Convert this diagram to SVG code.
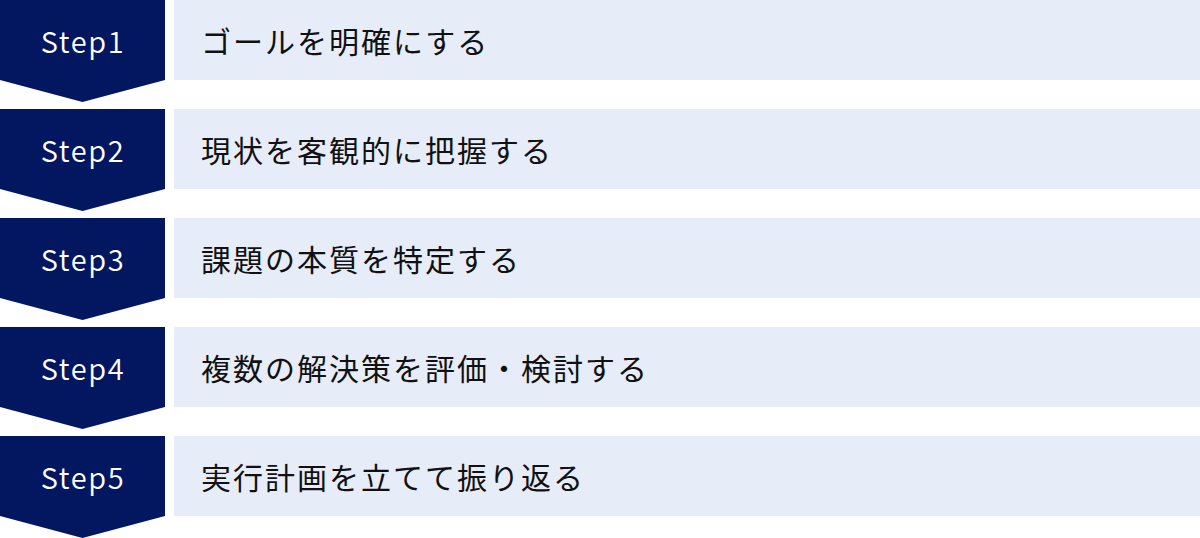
<svg xmlns="http://www.w3.org/2000/svg" width="1200" height="538" viewBox="0 0 1200 538">
<defs>
<style>
.chev{fill:#031761}
.bar{fill:#E6ECF8}
.step{font-family:"Noto Sans CJK JP","Noto Sans",sans-serif;font-size:29px;font-weight:350;fill:#ffffff;text-anchor:middle;letter-spacing:1.6px}
.label{font-family:"Noto Sans CJK JP","Noto Sans",sans-serif;font-size:30px;fill:#111111;letter-spacing:2px;dominant-baseline:central}
</style>
<polygon id="chevShape" class="chev" points="0,0 165,0 165,80 82.5,102 0,80"/>
</defs>
<rect width="1200" height="538" fill="#ffffff"/>
<g id="connectors"></g>
<g id="step1" transform="translate(0,0)">
<use href="#chevShape"/>
<rect class="bar" x="174" y="0" width="1026" height="80"/>
<text class="step" x="83" y="53">Step1</text>
<text class="label" x="201" y="40">ゴールを明確にする</text>
</g>
<g id="step2" transform="translate(0,109)">
<use href="#chevShape"/>
<rect class="bar" x="174" y="0" width="1026" height="80"/>
<text class="step" x="83" y="53">Step2</text>
<text class="label" x="201" y="40">現状を客観的に把握する</text>
</g>
<g id="step3" transform="translate(0,218)">
<use href="#chevShape"/>
<rect class="bar" x="174" y="0" width="1026" height="80"/>
<text class="step" x="83" y="53">Step3</text>
<text class="label" x="201" y="40">課題の本質を特定する</text>
</g>
<g id="step4" transform="translate(0,327)">
<use href="#chevShape"/>
<rect class="bar" x="174" y="0" width="1026" height="80"/>
<text class="step" x="83" y="53">Step4</text>
<text class="label" x="201" y="40">複数の解決策を評価・検討する</text>
</g>
<g id="step5" transform="translate(0,436)">
<use href="#chevShape"/>
<rect class="bar" x="174" y="0" width="1026" height="80"/>
<text class="step" x="83" y="53">Step5</text>
<text class="label" x="201" y="40">実行計画を立てて振り返る</text>
</g>
</svg>
